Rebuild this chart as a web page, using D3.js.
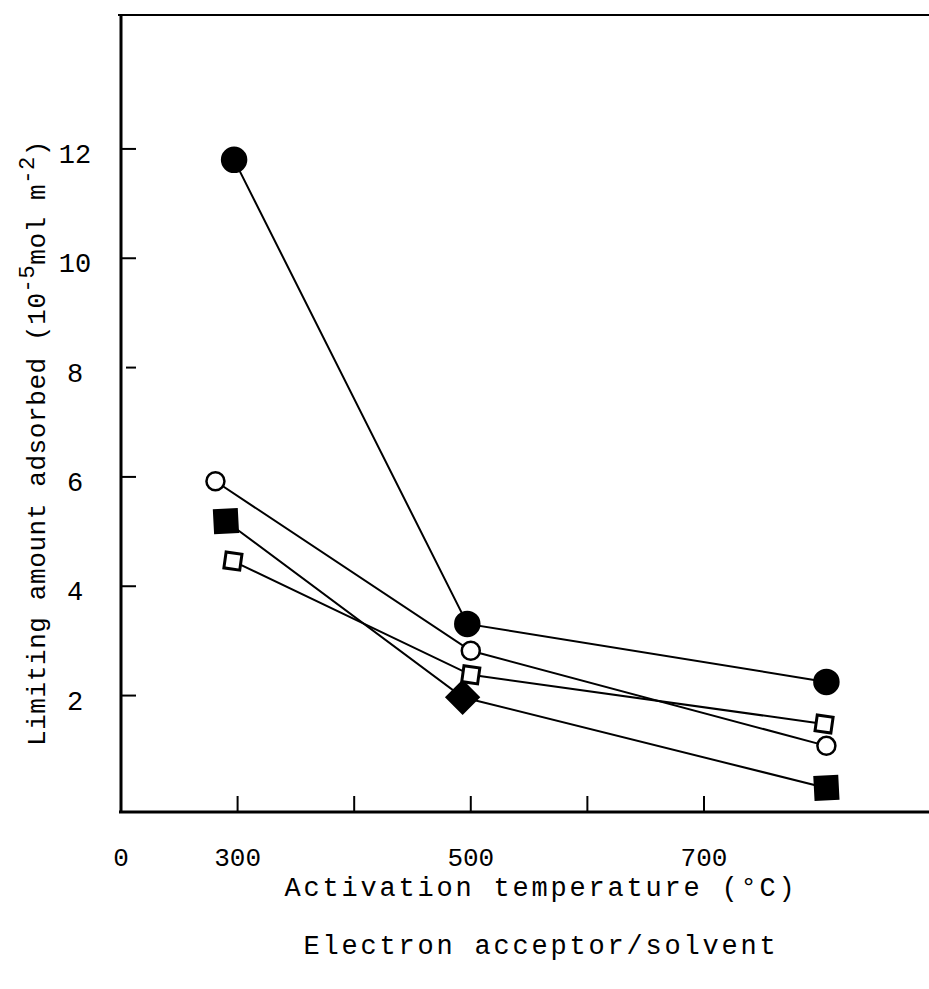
<!DOCTYPE html>
<html><head><meta charset="utf-8">
<script src="https://cdn.jsdelivr.net/npm/d3@7"></script>
<style>body{margin:0;background:#fff}svg{display:block}</style>
</head><body>
<script>
const filledCircle = [[297, 11.8], [497, 3.31], [805, 2.25]];
const openCircle = [[281, 5.92], [500, 2.82], [805, 1.08]];
const filledSquare = [[290, 5.19], [493, 1.97], [805, 0.31]];
const openSquare = [[296, 4.46], [500, 2.38], [803, 1.48]];
const xTicks = [300, 400, 500, 600, 700];
const xTickLabels = [[200, "0"], [300, "300"], [500, "500"], [700, "700"]];
const yTicks = [2, 4, 6, 8, 10, 12];

const W = 929, H = 989;
const svg = d3.select("body").append("svg").attr("width", W).attr("height", H);
const x = d3.scaleLinear().domain([200, 893]).range([121, 929]);
const y = d3.scaleLinear().domain([-0.13, 14.45]).range([812, 15]);
const font = "'Liberation Mono', 'DejaVu Sans Mono', monospace";

// axes
svg.append("line").attr("x1", x(200)).attr("x2", x(200)).attr("y1", y(14.45)).attr("y2", y(-0.13))
  .attr("stroke", "#000").attr("stroke-width", 3);
svg.append("line").attr("x1", x(200) - 2).attr("x2", W).attr("y1", y(-0.13)).attr("y2", y(-0.13))
  .attr("stroke", "#000").attr("stroke-width", 3);
svg.append("line").attr("x1", x(200) - 3).attr("x2", W).attr("y1", y(14.45)).attr("y2", y(14.45))
  .attr("stroke", "#000").attr("stroke-width", 2);

svg.selectAll(".yt").data(yTicks).enter().append("line")
  .attr("x1", d => x(200) + (d === 8 ? 5 : 0)).attr("x2", d => x(200) + 15)
  .attr("y1", d => y(d)).attr("y2", d => y(d)).attr("stroke", "#000").attr("stroke-width", 2);
svg.selectAll(".ytl").data(yTicks).enter().append("text")
  .attr("x", 75).attr("y", d => y(d) + 14).attr("text-anchor", "middle")
  .attr("font-family", font).attr("font-size", 27).text(d => d);

svg.selectAll(".xt").data(xTicks).enter().append("line")
  .attr("x1", d => x(d)).attr("x2", d => x(d)).attr("y1", y(-0.13)).attr("y2", y(-0.13) - 16)
  .attr("stroke", "#000").attr("stroke-width", 2);
svg.selectAll(".xtl").data(xTickLabels).enter().append("text")
  .attr("x", d => x(d[0])).attr("y", 866).attr("text-anchor", "middle")
  .attr("font-family", font).attr("font-size", 26).text(d => d[1]);

svg.append("text").attr("x", 541).attr("y", 896).attr("text-anchor", "middle")
  .attr("font-family", font).attr("font-size", 27).attr("letter-spacing", 2.8)
  .text("Activation temperature (°C)");
svg.append("text").attr("x", 541).attr("y", 954).attr("text-anchor", "middle")
  .attr("font-family", font).attr("font-size", 27).attr("letter-spacing", 2.8)
  .text("Electron acceptor/solvent");

const yl = svg.append("text").attr("transform", "translate(45,443) rotate(-90)").attr("text-anchor", "middle")
  .attr("font-family", font).attr("font-size", 26).attr("letter-spacing", 0.6);
yl.append("tspan").text("Limiting amount adsorbed (10");
yl.append("tspan").attr("dy", -11).attr("font-size", 22).text("-5");
yl.append("tspan").attr("dy", 11).text("mol m");
yl.append("tspan").attr("dy", -11).attr("font-size", 22).text("-2");
yl.append("tspan").attr("dy", 11).text(")");

const line = d3.line().x(d => x(d[0])).y(d => y(d[1]));
const series = [
  {data: filledCircle, type: "circle", fill: true, r: 12},
  {data: openCircle, type: "circle", fill: false, r: 9},
  {data: filledSquare, type: "square", fill: true, r: 11},
  {data: openSquare, type: "square", fill: false, r: 8}
];
series.forEach(s => {
  svg.append("path").attr("d", line(s.data)).attr("fill", "none").attr("stroke", "#000").attr("stroke-width", 2);
});
series.forEach(s => {
  s.data.forEach((d, i) => {
    const cx = x(d[0]), cy = y(d[1]);
    if (s.type === "circle") {
      svg.append("circle").attr("cx", cx).attr("cy", cy).attr("r", s.r)
        .attr("fill", s.fill ? "#000" : "#fff").attr("stroke", "#000").attr("stroke-width", 2.5);
    } else {
      const diamond = s.fill && i === 1;
      svg.append("rect").attr("x", cx - s.r).attr("y", cy - s.r).attr("width", 2 * s.r).attr("height", 2 * s.r)
        .attr("transform", diamond ? `rotate(45,${cx},${cy})` : `rotate(${s.fill ? -3 : 8},${cx},${cy})`)
        .attr("fill", s.fill ? "#000" : "#fff").attr("stroke", "#000").attr("stroke-width", 3);
    }
  });
});
</script>
</body></html>
